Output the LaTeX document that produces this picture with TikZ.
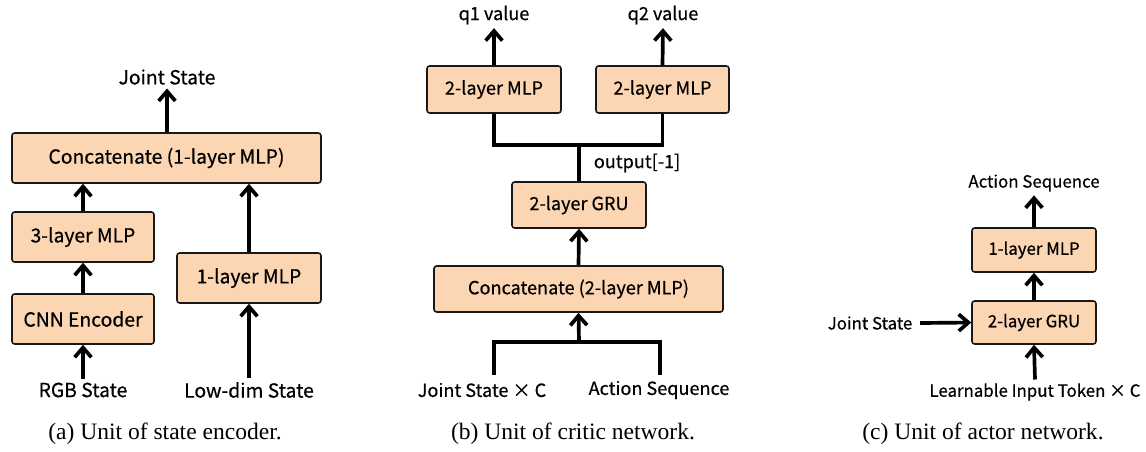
\documentclass[tikz,border=0pt]{standalone}
\usepackage{fontspec}
\setmainfont{Liberation Serif}
\newfontfamily\boxfont{Noto Sans CJK KR}[FakeBold=0.5]
\usetikzlibrary{arrows.meta}
\definecolor{peach}{RGB}{252,213,178}

\begin{document}
\begin{tikzpicture}[x=0.02cm,y=-0.02cm,
    blk/.style={draw=black!90,line width=0.9pt,fill=peach,rounded corners=1.5pt,inner sep=0pt},
    lbl/.style={inner sep=2pt},
    captxt/.style={inner sep=0pt,font=\fontsize{13.4}{16}\selectfont},
    arr/.style={line width=2.1pt,-{Straight Barb[length=5.5pt,width=9.5pt]}},
    wire/.style={line width=2.1pt}]
        \useasboundingbox (0,0) rectangle (1146,451);

        % (a) state encoder
        \begin{scope}[every node/.style={font=\boxfont\fontsize{11}{13}\selectfont}]
        \node[blk,minimum width=6.18cm,minimum height=1cm] (concatA) at (166.5,158) {Concatenate (1-layer MLP)};
        \node[blk,minimum width=2.84cm,minimum height=1cm] (mlpThree) at (83,237) {3-layer MLP};
        \node[blk,minimum width=2.84cm,minimum height=1cm] (cnnEnc) at (83,319) {CNN Encoder};
        \node[blk,minimum width=2.88cm,minimum height=1cm] (mlpLow) at (249,278) {1-layer MLP};
        \node[lbl] (jointA) at (167,77) {Joint State};
        \node[lbl] (rgbIn) at (83,390) {RGB State};
        \node[lbl] (lowIn) at (249,390) {Low-dim State};
        \end{scope}

        \draw[arr] (concatA.north -| jointA) -- (jointA.south);
        \draw[arr] (rgbIn.north) -- (cnnEnc.south);
        \draw[arr] (cnnEnc.north) -- (mlpThree.south);
        \draw[arr] (mlpThree.north) -- (mlpThree.north |- concatA.south);
        \draw[arr] (lowIn.north) -- (mlpLow.south);
        \draw[arr] (mlpLow.north) -- (mlpLow.north |- concatA.south);

        % (b) critic network
        \begin{scope}[every node/.style={font=\boxfont\fontsize{10.3}{12}\selectfont}]
        \node[blk,minimum width=2.68cm,minimum height=0.94cm] (mlpQa) at (494,89.5) {2-layer MLP};
        \node[blk,minimum width=2.66cm,minimum height=0.94cm] (mlpQb) at (662.5,89.5) {2-layer MLP};
        \node[blk,minimum width=2.68cm,minimum height=0.92cm] (gruB) at (579,205) {2-layer GRU};
        \node[blk,minimum width=5.78cm,minimum height=0.92cm] (concatB) at (578.5,289) {Concatenate (2-layer MLP)};
        \node[lbl] (qOne) at (494,15) {q1 value};
        \node[lbl] (qTwo) at (663,15) {q2 value};
        \node[lbl,anchor=west] (outLast) at (590,163) {output[-1]};
        \node[lbl] (jointC) at (482,390) {Joint State × C};
        \node[lbl] (actIn) at (659,390) {Action Sequence};
        \end{scope}
        \coordinate (split) at (579,145);
        \coordinate (fork) at (579,342);
        \coordinate (jointEnd) at (494,375);
        \coordinate (actEnd) at (660,375);

        \draw[arr] (mlpQa.north) -- (qOne.south);
        \draw[arr] (mlpQb.north) -- (qTwo.south);
        \draw[wire] (mlpQa.south) -- (mlpQa.south |- split) -| (mlpQb.south);
        \draw[wire] (gruB.north) -- (split);
        \draw[arr] (concatB.north) -- (gruB.south);
        \draw[wire] (jointEnd) |- (actEnd |- fork) -- (actEnd);
        \draw[arr] (fork) -- (concatB.south);

        % (c) actor network
        \begin{scope}[every node/.style={font=\boxfont\fontsize{9.6}{11}\selectfont}]
        \node[blk,minimum width=2.48cm,minimum height=0.88cm] (mlpAct) at (1034,250) {1-layer MLP};
        \node[blk,minimum width=2.48cm,minimum height=0.86cm] (gruAct) at (1034,322.5) {2-layer GRU};
        \node[lbl] (actOut) at (1034,183) {Action Sequence};
        \node[lbl] (jointIn) at (870,323) {Joint State};
        \node[lbl] (tokIn) at (1035,392) {Learnable Input Token × C};
        \end{scope}

        \draw[arr] (mlpAct.north) -- (actOut.south);
        \draw[arr] (gruAct.north) -- (mlpAct.south);
        \draw[arr] (jointIn.east) ++(4,0) -- (gruAct.west);
        \draw[arr] (tokIn.north) -- (gruAct.south);

        % captions
        \node[captxt] (capA) at (165,434) {(a) Unit of state encoder.};
        \node[captxt] (capB) at (573,434) {(b) Unit of critic network.};
        \node[captxt] (capC) at (983,434) {(c) Unit of actor network.};
\end{tikzpicture}
\end{document}
